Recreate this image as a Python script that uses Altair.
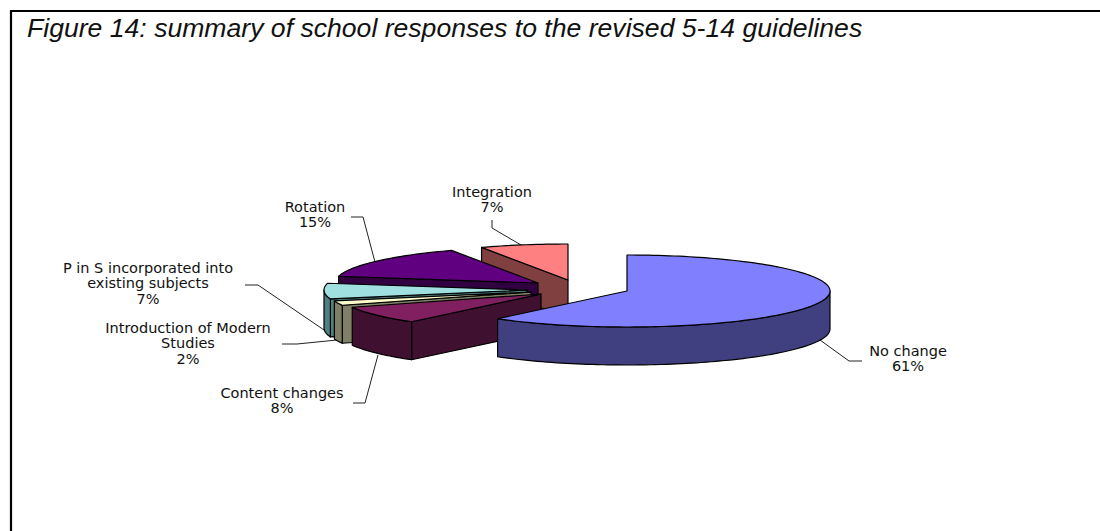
import math
import altair as alt

# Survey results: share of schools per response, clockwise from twelve o'clock.
categories = ["No change", "Content changes", "Introduction of Modern Studies",
              "P in S incorporated into existing subjects", "Rotation", "Integration"]
shares = [61, 8, 2, 7, 15, 7]
top_colors = ["#8080FF", "#802060", "#FFFFCC", "#A0E0E0", "#600080", "#FF8080"]
side_colors = ["#404080", "#401030", "#808066", "#508080", "#300040", "#804040"]

# Label wording, one entry per line of text.
label_lines = [
    ["No change", "61%"],
    ["Content changes", "8%"],
    ["Introduction of Modern", "Studies", "2%"],
    ["P in S incorporated into", "existing subjects", "7%"],
    ["Rotation", "15%"],
    ["Integration", "7%"],
]
title_text = "Figure 14: summary of school responses to the revised 5-14 guidelines"

# Layout of the tilted, exploded pie on the 1100x531 canvas.
W, H = 1100, 531
RX, RY, DEPTH = 203, 36, 38
hubs = [(627, 291), (541, 294), (531, 292), (527, 290), (538, 283), (568, 280)]
label_anchor = [(908, 352), (282, 394), (188, 329), (148, 269), (315, 208), (492, 193)]
leaders = [
    [(820, 340), (849, 361), (862, 361)],
    [(378, 355), (365, 403), (353, 403)],
    [(337, 340), (297, 344), (282, 344)],
    [(327, 332), (258, 285), (245, 285)],
    [(375, 262), (363, 217), (351, 217)],
    [(521, 245), (492, 228), (492, 220)],
]
LINE_STEP = 15.4


def rim_point(hub, deg, drop=0):
    a = math.radians(deg)
    return [hub[0] + RX * math.sin(a), hub[1] - RY * math.cos(a) + drop]


def arc(hub, a0, a1, drop=0):
    n = max(2, int(abs(a1 - a0) / 1.5) + 1)
    return [rim_point(hub, a0 + (a1 - a0) * i / n, drop) for i in range(n + 1)]


def polygon(points, fill):
    ring = [list(p) for p in points]
    ring.append(ring[0])
    return {"type": "Feature", "properties": {"fill": fill},
            "geometry": {"type": "Polygon", "coordinates": [ring]}}


def polyline(points, width=1, color="#222222"):
    return {"type": "Feature", "properties": {"width": width, "color": color},
            "geometry": {"type": "LineString", "coordinates": [list(p) for p in points]}}


# Slice angle ranges from the shares.
spans, running = [], 0.0
for s in shares:
    spans.append((running, running + s * 3.6))
    running += s * 3.6

# Painter's order: back slices first, the large front slice last.
faces = []
for i in [5, 4, 3, 2, 1, 0]:
    hub, (a0, a1) = hubs[i], spans[i]
    hub_low = (hub[0], hub[1] + DEPTH)
    for ang in (a0, a1):
        s = math.sin(math.radians(ang))
        if (ang == a0 and s < -1e-6) or (ang == a1 and s > 1e-6):
            edge = rim_point(hub, ang)
            faces.append(polygon([hub, edge, rim_point(hub, ang, DEPTH), hub_low], side_colors[i]))
    r0, r1 = max(a0, 90), min(a1, 270)
    if r1 > r0:
        faces.append(polygon(arc(hub, r0, r1) + arc(hub, r1, r0, DEPTH), side_colors[i]))
    faces.append(polygon([hub] + arc(hub, a0, a1), top_colors[i]))

projection = alt.Projection(type="identity", scale=1, translate=[0, 0])

pie = (
    alt.Chart(alt.InlineData(values={"type": "FeatureCollection", "features": faces},
                             format=alt.JsonDataFormat(type="json", property="features")))
    .mark_geoshape(stroke="black", strokeWidth=1.2, strokeJoin="round")
    .encode(fill=alt.Fill("properties.fill:N", scale=None))
    .project(**projection.to_dict())
)

line_features = [polyline(p) for p in leaders]
line_features += [polyline([(10, 11), (W, 11)], 2.2, "black"), polyline([(11, 10), (11, H)], 2.2, "black")]
lines = (
    alt.Chart(alt.InlineData(values={"type": "FeatureCollection", "features": line_features},
                             format=alt.JsonDataFormat(type="json", property="features")))
    .mark_geoshape(filled=False)
    .encode(stroke=alt.Stroke("properties.color:N", scale=None),
            strokeWidth=alt.StrokeWidth("properties.width:Q", scale=None))
    .project(**projection.to_dict())
)

x_px = alt.X("x:Q", scale=alt.Scale(domain=[0, W], range=[0, W]), axis=None)
y_px = alt.Y("y:Q", scale=alt.Scale(domain=[0, H], range=[0, H]), axis=None)

# Each label is one multi-line text, anchored at its first line.
rows = [{"x": anchor[0], "y": anchor[1], "t": "\n".join(text_lines)}
        for anchor, text_lines in zip(label_anchor, label_lines)]

labels = (
    alt.Chart(alt.Data(values=rows))
    .mark_text(font="DejaVu Sans", fontSize=14.5, color="#111111", align="center", baseline="middle",
               lineBreak="\n", lineHeight=LINE_STEP)
    .encode(x=x_px, y=y_px, text="t:N")
)
title = (
    alt.Chart(alt.Data(values=[{"x": 27, "y": 29, "t": title_text}]))
    .mark_text(font="Liberation Sans", fontStyle="italic", fontSize=26.6, color="#111111", align="left", baseline="middle")
    .encode(x=x_px, y=y_px, text="t:N")
)

chart = (
    alt.layer(lines, pie, labels, title)
    .properties(width=W, height=H, padding=0, autosize=alt.AutoSizeParams(type="none"),
                background="white")
    .configure_view(stroke=None)
)
chart.save("out.html", embed_options={"renderer": "svg", "actions": False})
